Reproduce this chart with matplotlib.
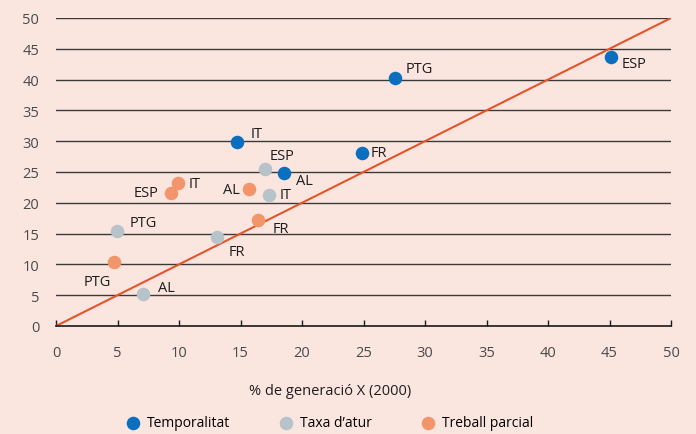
import matplotlib.pyplot as plt

# Temporalitat
temp_x = [45.1, 27.6, 14.7, 24.9, 18.5]
temp_y = [43.7, 40.3, 29.9, 28.1, 24.8]
temp_lab = ["ESP", "PTG", "IT", "FR", "AL"]

# Taxa d'atur
atur_x = [17.0, 17.3, 13.1, 4.96, 7.07]
atur_y = [25.5, 21.3, 14.4, 15.4, 5.2]
atur_lab = ["ESP", "IT", "FR", "PTG", "AL"]

# Treball parcial
parc_x = [9.9, 9.35, 15.7, 16.4, 4.7]
parc_y = [23.2, 21.6, 22.2, 17.2, 10.4]
parc_lab = ["IT", "ESP", "AL", "FR", "PTG"]

# posicio de les etiquetes (offset en punts)
temp_off = [(8, -5), (7, 7), (10, 6), (6, 0), (9, -5)]
atur_off = [(3, 10), (8, 0), (8, -10), (9, 6), (11, 5)]
parc_off = [(8, 0), (-27, 0), (-19, 0), (11, -6), (-22, -14)]

bg = "#fbe5df"
c_temp = "#0a6fbf"
c_atur = "#b6c3c8"
c_parc = "#f2956b"

plt.rcParams["font.family"] = ["Open Sans", "DejaVu Sans"]

fig = plt.figure(figsize=(6.96, 4.35), dpi=100, facecolor=bg)
ax = fig.add_axes([56 / 696, 1 - 327 / 435, 615 / 696, 308 / 435], facecolor=bg)

for v in range(5, 55, 5):
    ax.axhline(v, color="#3a3a3a", lw=1.0, zorder=1)

ax.plot([0, 50], [0, 50], color="#e4542c", lw=1.5, zorder=2)

for xs, ys, labs, offs, col, name in [
    (temp_x, temp_y, temp_lab, temp_off, c_temp, "Temporalitat"),
    (atur_x, atur_y, atur_lab, atur_off, c_atur, "Taxa d\u2019atur"),
    (parc_x, parc_y, parc_lab, parc_off, c_parc, "Treball parcial"),
]:
    ax.scatter(xs, ys, s=95, color=col, zorder=3, label=name, linewidths=0)
    for x, y, t, o in zip(xs, ys, labs, offs):
        ax.annotate(t, (x, y), xytext=o, textcoords="offset points",
                    fontsize=10.5, color="#1e1e1e", va="center", ha="left")

ax.set_xlim(0, 50)
ax.set_ylim(0, 50)
ax.set_xticks(range(0, 55, 5))
ax.set_yticks(range(0, 55, 5))
for s in ["top", "right", "left"]:
    ax.spines[s].set_visible(False)
ax.spines["bottom"].set_color("#1a1a1a")
ax.spines["bottom"].set_linewidth(1.2)
ax.tick_params(axis="x", direction="in", length=4, width=1, color="#1a1a1a",
               labelsize=10.5, labelcolor="#4a4a4a", pad=14)
ax.tick_params(axis="y", length=0, labelsize=10.5, labelcolor="#4a4a4a", pad=12)
ax.set_xlabel("% de generació X (2000)", fontsize=10.5, color="#1e1e1e")
ax.xaxis.set_label_coords(0.446, -0.185)

ax.legend(loc="upper center", bbox_to_anchor=(0.444, -0.25), ncol=3, frameon=False,
          fontsize=10, handlelength=1.2, handletextpad=0.4, columnspacing=3.45)

fig.savefig("out.png", dpi=100, facecolor=bg)
